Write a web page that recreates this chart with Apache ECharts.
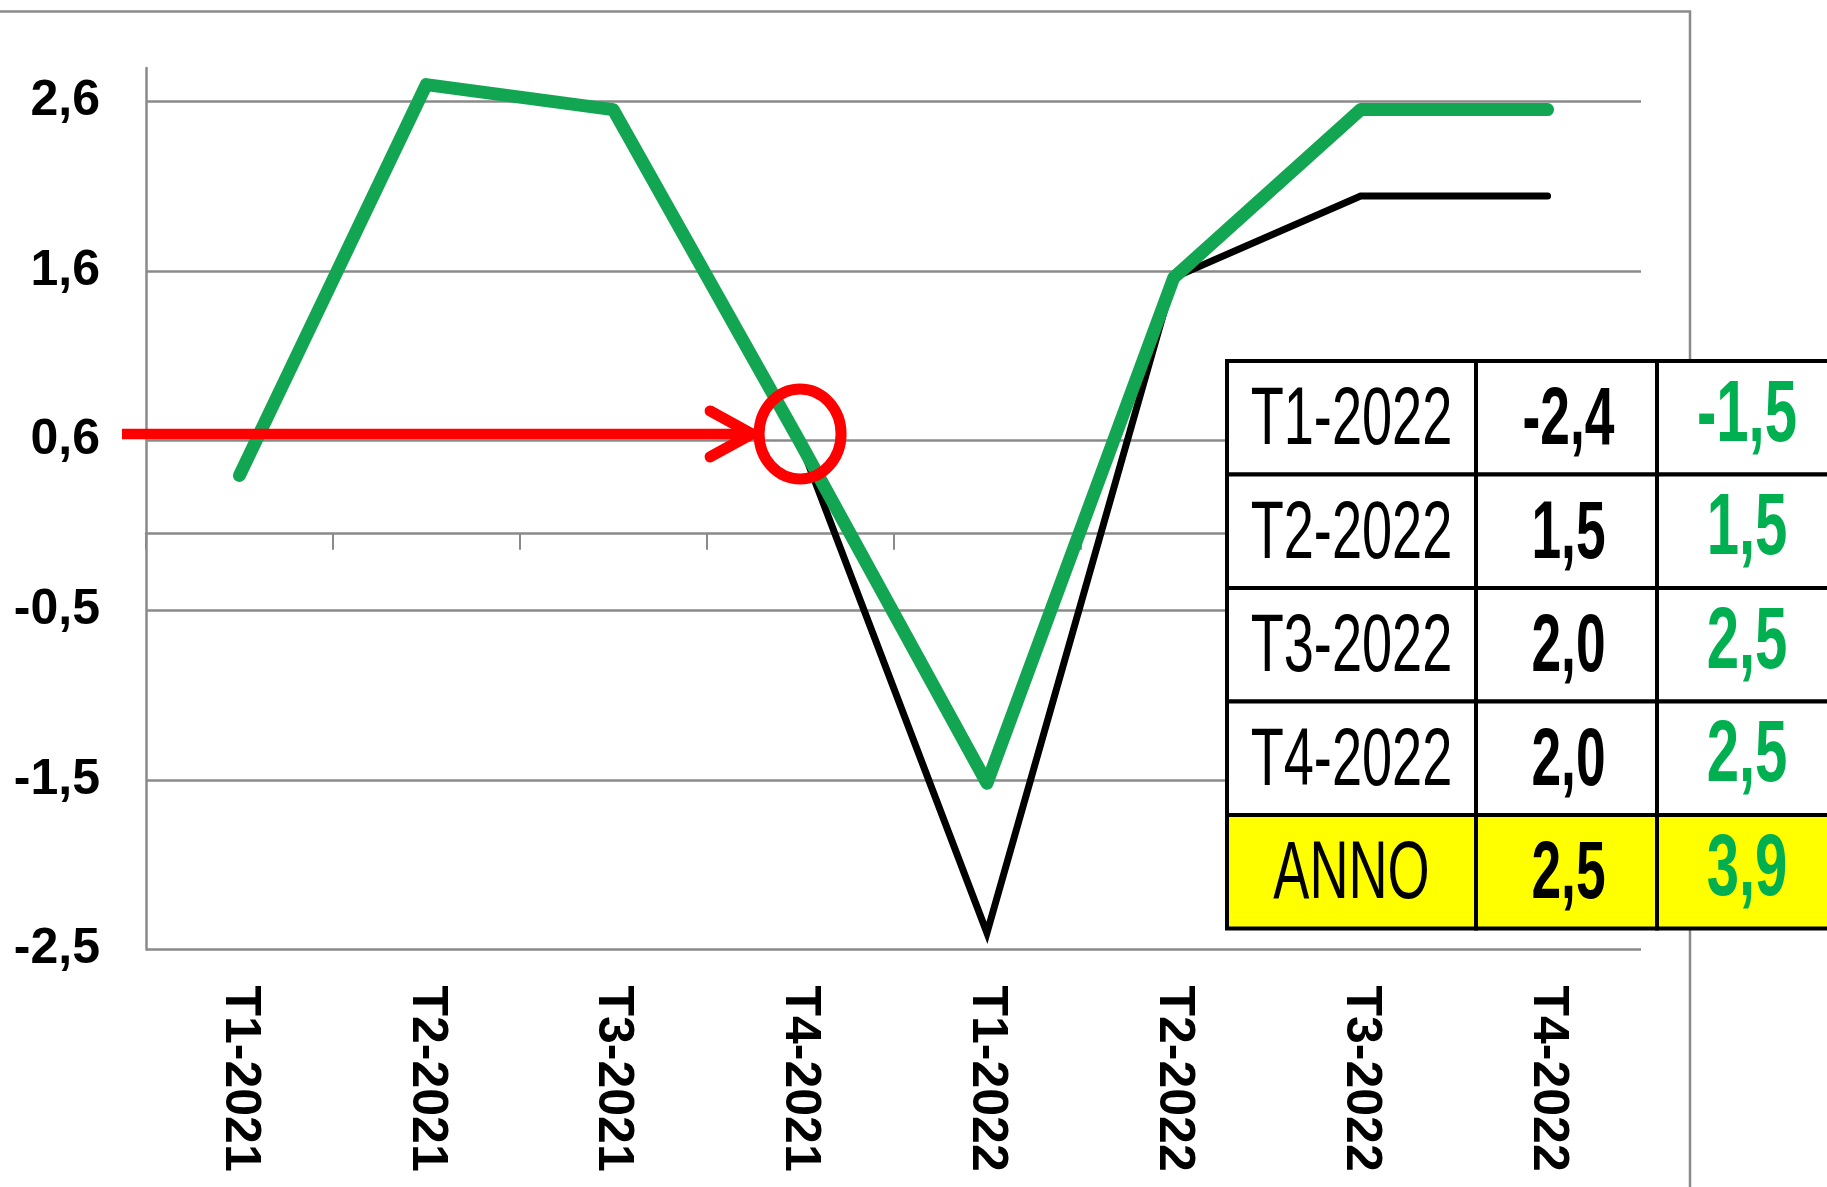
<!DOCTYPE html>
<html>
<head>
<meta charset="utf-8">
<script src="https://cdn.jsdelivr.net/npm/echarts@6/dist/echarts.min.js"></script>
<style>
html,body{margin:0;padding:0;background:#fff;}
#chart{width:1827px;height:1187px;}
</style>
</head>
<body>
<div id="chart"></div>
<script>
// ---- data ----
const categories = ['T1-2021','T2-2021','T3-2021','T4-2021','T1-2022','T2-2022','T3-2022','T4-2022'];
const seriesBlack = [0.35, 2.7, 2.55, 0.55, -2.4, 1.54, 2.03, 2.03];
const seriesGreen = [0.35, 2.7, 2.55, 0.55, -1.5, 1.54, 2.55, 2.55];
const yTickValues = [-2.5, -1.48, -0.46, 0.56, 1.58, 2.6];
const yTickLabels = ['-2,5', '-1,5', '-0,5', '0,6', '1,6', '2,6'];
const tableRowLabels = ['T1-2022','T2-2022','T3-2022','T4-2022','ANNO'];
const tableBlack = ['-2,4', '1,5', '2,0', '2,0', '2,5'];
const tableGreen = ['-1,5', '1,5', '2,5', '2,5', '3,9'];
const highlightCategory = 'T4-2021';
const highlightValue = 0.6;

const Y_MIN = -2.5, Y_MAX = 2.8, Y_INTERVAL = 1.02;
const GREEN = '#12a552';
const TEXT_GREEN = '#00b050';
const GRID_GRAY = '#8a8a8a';

function yLabel(v){
  for (let i = 0; i < yTickValues.length; i++) {
    if (Math.abs(yTickValues[i] - v) < 1e-6) return yTickLabels[i];
  }
  return '';
}

const chart = echarts.init(document.getElementById('chart'), null, {renderer:'canvas'});

chart.setOption({
  animation: false,
  backgroundColor: '#ffffff',
  grid: {left: 146, right: 186, top: 68, bottom: 237.5, containLabel: false},
  xAxis: [{
    type: 'category',
    data: categories,
    position: 'bottom',
    boundaryGap: true,
    axisLine: {show: false, onZero: false},
    axisTick: {show: false},
    axisLabel: {
      rotate: -90, margin: 36,
      fontSize: 50, fontWeight: 'bold', color: '#000',
      fontFamily: '"Liberation Sans", Arial, sans-serif'
    },
    splitLine: {show: false}
  }, {
    type: 'category',
    data: categories,
    position: 'top',
    boundaryGap: true,
    axisLine: {show: true, onZero: true, lineStyle: {color: GRID_GRAY, width: 2.5}},
    axisTick: {show: true, inside: true, length: 16, lineStyle: {color: GRID_GRAY, width: 2}},
    axisLabel: {show: false},
    splitLine: {show: false}
  }],
  yAxis: {
    type: 'value',
    min: Y_MIN, max: Y_MAX, interval: Y_INTERVAL,
    axisLine: {show: true, lineStyle: {color: GRID_GRAY, width: 2.5}},
    axisTick: {show: false},
    axisLabel: {
      margin: 46, fontSize: 50, fontWeight: 'bold', color: '#000',
      fontFamily: '"Liberation Sans", Arial, sans-serif',
      showMaxLabel: false,
      formatter: yLabel
    },
    splitLine: {show: true, showMaxLine: false, lineStyle: {color: GRID_GRAY, width: 2.5}}
  },
  series: [{
    name: 'nero',
    type: 'line',
    data: seriesBlack,
    symbol: 'none',
    z: 2,
    lineStyle: {color: '#000', width: 7, cap: 'round', join: 'miter'}
  }, {
    name: 'verde',
    type: 'line',
    data: seriesGreen,
    symbol: 'none',
    z: 3,
    lineStyle: {color: GREEN, width: 13, cap: 'round', join: 'round'}
  }]
});

// ---- overlays: frame, annotation, table ----
const p = chart.convertToPixel({gridIndex: 0}, [highlightCategory, highlightValue]);
const cx = p[0], cy = p[1];
const RED = '#ff0000';
const tipX = cx - 48;

const graphics = [];
// chart area frame (top and right border)
graphics.push({
  type: 'polyline', z: 1,
  shape: {points: [[-5, 11.5], [1690, 11.5], [1690, 1195]]},
  style: {stroke: GRID_GRAY, lineWidth: 2.5, fill: null}
});
// arrow
graphics.push({
  type: 'line', z: 50,
  shape: {x1: 122, y1: cy, x2: tipX - 2, y2: cy},
  style: {stroke: RED, lineWidth: 10.5, lineCap: 'butt'}
});
graphics.push({
  type: 'polyline', z: 50,
  shape: {points: [[tipX - 42, cy - 23], [tipX, cy], [tipX - 42, cy + 23]]},
  style: {stroke: RED, lineWidth: 11, lineCap: 'round', lineJoin: 'miter', fill: null}
});
// circle
graphics.push({
  type: 'ellipse', z: 50,
  shape: {cx: cx, cy: cy, rx: 41, ry: 45},
  style: {stroke: RED, lineWidth: 11, fill: null}
});

// table
const colX = [1227, 1476, 1657, 1837];
const rowY0 = 361, rowH = 113.5;
for (let r = 0; r < tableRowLabels.length; r++) {
  const y = rowY0 + r * rowH;
  const bg = r === tableRowLabels.length - 1 ? '#ffff00' : '#ffffff';
  for (let c = 0; c < 3; c++) {
    graphics.push({
      type: 'rect', z: 60,
      shape: {x: colX[c], y: y, width: colX[c + 1] - colX[c], height: rowH},
      style: {fill: bg, stroke: '#000', lineWidth: 4}
    });
  }
  const mid = y + rowH / 2;
  graphics.push({
    type: 'text', z: 61, x: (colX[0] + colX[1]) / 2, y: mid + 4, scaleX: 0.66,
    style: {text: tableRowLabels[r], fill: '#000', fontSize: 82, fontWeight: 'normal',
      fontFamily: '"Liberation Sans", Arial, sans-serif', align: 'center', verticalAlign: 'middle'}
  });
  graphics.push({
    type: 'text', z: 61, x: (colX[1] + colX[2]) / 2 + 2, y: mid + 4, scaleX: 0.65,
    style: {text: tableBlack[r], fill: '#000', fontSize: 82, fontWeight: 'bold',
      fontFamily: '"Liberation Sans", Arial, sans-serif', align: 'center', verticalAlign: 'middle'}
  });
  graphics.push({
    type: 'text', z: 61, x: 1747, y: mid - 1.5, scaleX: 0.66,
    style: {text: tableGreen[r], fill: TEXT_GREEN, fontSize: 88, fontWeight: 'bold',
      fontFamily: '"Liberation Sans", Arial, sans-serif', align: 'center', verticalAlign: 'middle'}
  });
}

chart.setOption({graphic: graphics});
</script>
</body>
</html>
